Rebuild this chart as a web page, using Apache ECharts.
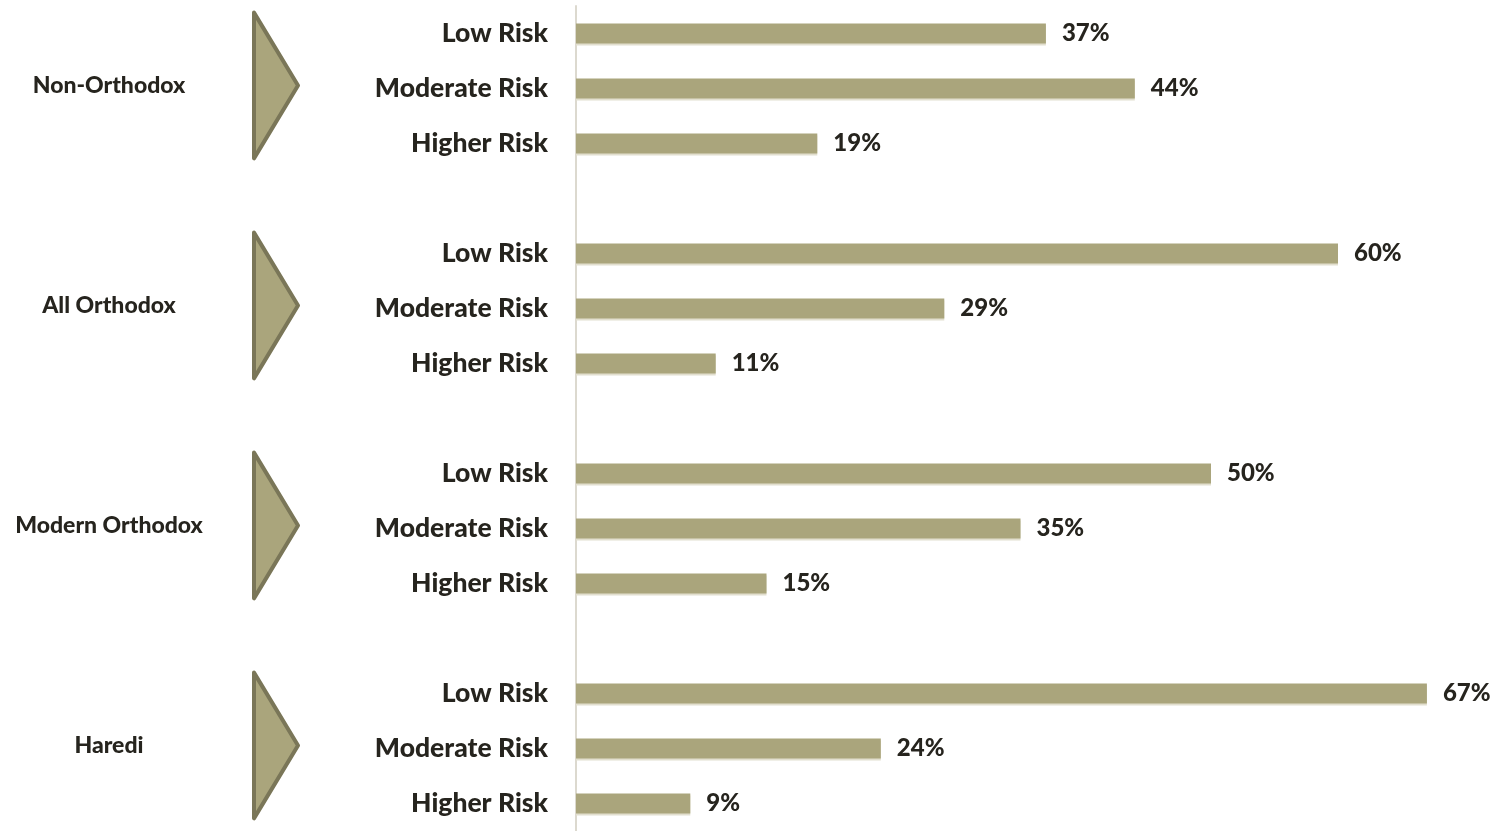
<!DOCTYPE html>
<html>
<head>
<meta charset="utf-8">
<script src="https://cdn.jsdelivr.net/npm/echarts@6/dist/echarts.min.js"></script>
<style>
html,body{margin:0;padding:0;background:#fff;}
#chart{width:1496px;height:831px;}
</style>
</head>
<body>
<div id="chart"></div>
<script>
// ---- data ----
const groups = ['Non-Orthodox', 'All Orthodox', 'Modern Orthodox', 'Haredi'];
const riskLevels = ['Low Risk', 'Moderate Risk', 'Higher Risk'];
const lowRisk = [37, 60, 50, 67];
const moderateRisk = [44, 29, 35, 24];
const higherRisk = [19, 11, 15, 9];

// ---- build rows (3 risk rows per group + a blank spacer between groups) ----
const seriesByRisk = [lowRisk, moderateRisk, higherRisk];
const categories = [];
const rowLabels = [];
const values = [];
const groupSpans = [];
groups.forEach((g, gi) => {
  const first = categories.length;
  riskLevels.forEach((r, ri) => {
    categories.push(g + '|' + r);
    rowLabels.push(r);
    values.push(seriesByRisk[ri][gi]);
  });
  groupSpans.push([first, categories.length - 1, gi]);
  if (gi < groups.length - 1) {
    categories.push('gap' + gi);
    rowLabels.push('');
    values.push('-');
  }
});

const BAR = '#aaa57c';
const EDGE = '#7a7658';
const TEXT = '#26241e';
const FONT = 'Lato, "Open Sans", sans-serif';
const WEIGHT = 900;

const chart = echarts.init(document.getElementById('chart'), null, {renderer: 'canvas'});
chart.setOption({
  animation: false,
  grid: {left: 576, width: 889, top: 6, height: 829, containLabel: false},
  xAxis: {type: 'value', min: 0, max: 70, show: false},
  yAxis: {
    type: 'category',
    data: categories,
    inverse: true,
    axisTick: {show: false},
    axisLine: {show: true, lineStyle: {color: '#dcd9cf', width: 2}},
    splitLine: {show: false},
    axisLabel: {
      margin: 28,
      fontFamily: FONT,
      fontWeight: WEIGHT,
      fontSize: 26.5,
      color: TEXT,
      formatter: (v, i) => rowLabels[i]
    }
  },
  series: [
    {
      type: 'bar',
      data: values,
      barWidth: 20,
      itemStyle: {color: BAR, shadowColor: '#e2dfcf', shadowOffsetY: 2, shadowBlur: 0},
      label: {
        show: true,
        position: 'right',
        distance: 16,
        formatter: '{c}%',
        fontFamily: FONT,
        fontWeight: WEIGHT,
        fontSize: 24,
        color: TEXT
      }
    },
    {
      type: 'custom',
      coordinateSystem: 'cartesian2d',
      clip: false,
      silent: true,
      data: groupSpans,
      encode: {x: -1, y: 0},
      renderItem: (params, api) => {
        const first = api.value(0), last = api.value(1), gi = api.value(2);
        const p0 = api.coord([0, first]);
        const p1 = api.coord([0, last]);
        const slot = api.size([0, 1])[1];
        const top = p0[1] - slot * 0.38;
        const bottom = p1[1] + slot * 0.27;
        const mid = (top + bottom) / 2;
        const axisX = p0[0];
        const leftX = axisX - 322;
        const apexX = axisX - 278;
        return {
          type: 'group',
          children: [
            {
              type: 'polygon',
              shape: {points: [[leftX, top], [apexX, mid], [leftX, bottom]]},
              style: {fill: BAR, stroke: EDGE, lineWidth: 4, lineJoin: 'round'}
            },
            {
              type: 'text',
              x: axisX - 467,
              y: mid,
              style: {
                text: groups[gi],
                align: 'center',
                verticalAlign: 'middle',
                fontFamily: FONT,
                fontWeight: WEIGHT,
                fontSize: 23,
                fill: TEXT
              }
            }
          ]
        };
      }
    }
  ]
});
</script>
</body>
</html>
